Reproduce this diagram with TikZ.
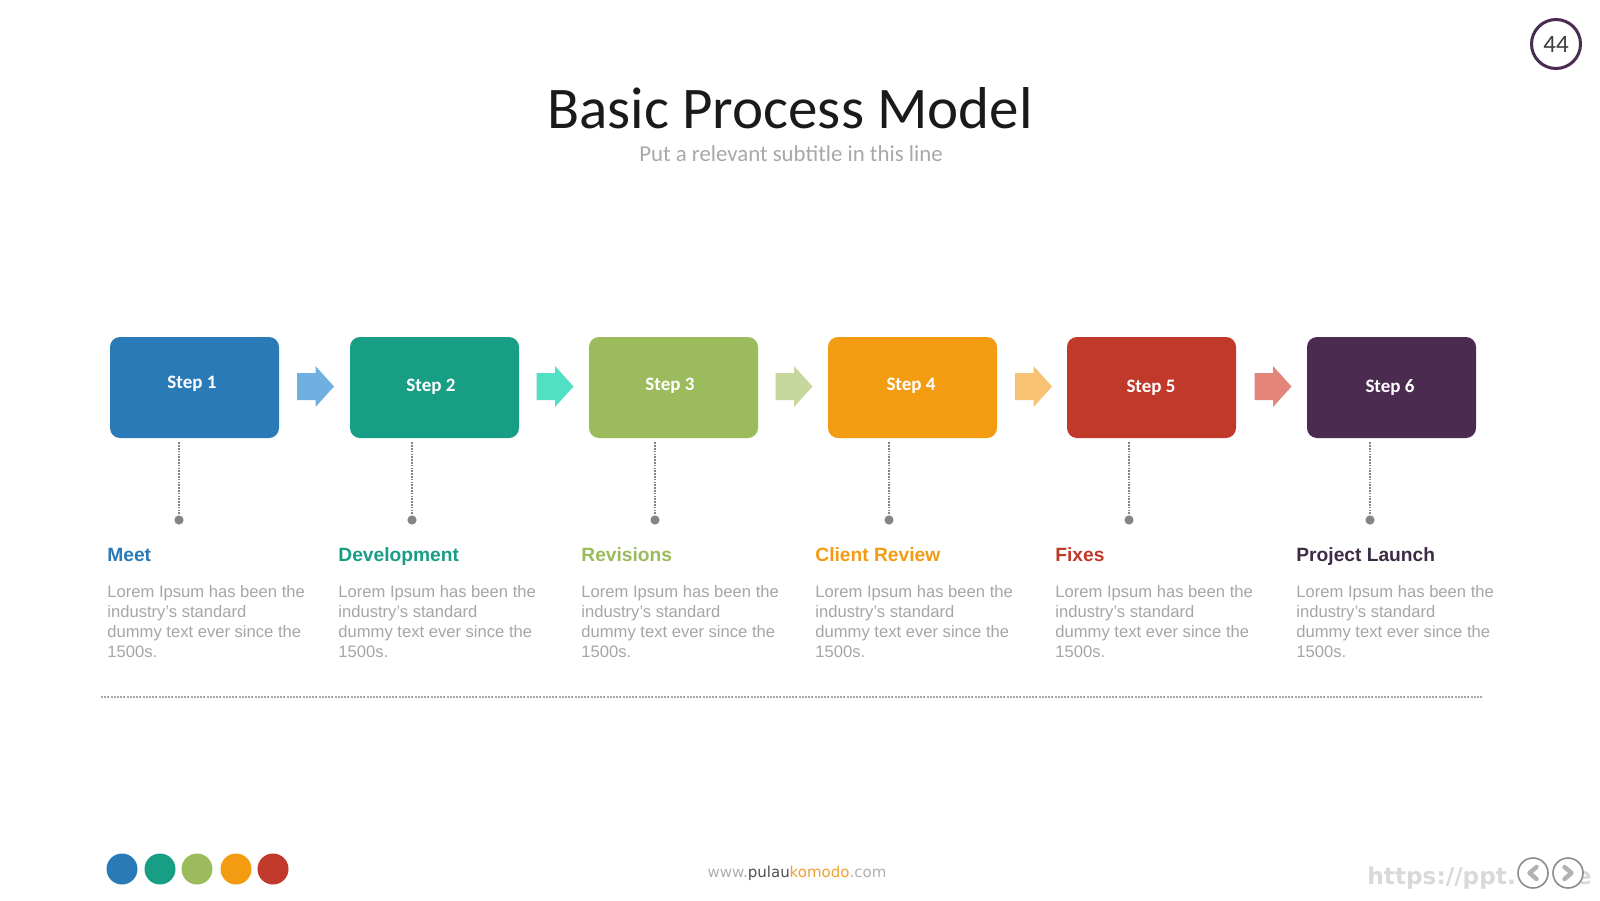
\documentclass[tikz,border=0pt]{standalone}
\usepackage{fontspec}
\setmainfont{Liberation Sans}
\newfontfamily\calib{Carlito}
\newfontfamily\dejav{DejaVu Sans}
\usetikzlibrary{calc}
\definecolor{cA}{HTML}{2A7AB8}
\definecolor{cB}{HTML}{199E86}
\definecolor{cC}{HTML}{9BBB5C}
\definecolor{cD}{HTML}{F39C12}
\definecolor{cE}{HTML}{C0392B}
\definecolor{cF}{HTML}{4B2C50}
\definecolor{hF}{HTML}{3D2B45}
\definecolor{aA}{HTML}{6FB0E0}
\definecolor{aB}{HTML}{52E0C4}
\definecolor{aC}{HTML}{C6D89E}
\definecolor{aD}{HTML}{F8C274}
\definecolor{aE}{HTML}{E4857A}
\definecolor{bodygray}{HTML}{A6A6A6}
\definecolor{dotgray}{HTML}{858585}
\definecolor{linegray}{HTML}{A8A8A8}
\definecolor{titlecol}{HTML}{1A1A1A}
\definecolor{subcol}{HTML}{A8A8A8}
\definecolor{badgecol}{HTML}{4A2C50}
\definecolor{webgray}{HTML}{B0B0B0}
\definecolor{webdark}{HTML}{505050}
\definecolor{weborange}{HTML}{F0A030}
\definecolor{wmgray}{HTML}{D9D9D9}
\tikzset{
  stepbox/.style={rectangle, rounded corners=5pt, minimum width=84.5pt, minimum height=50.5pt, inner sep=0pt},
  steplabel/.style={anchor=base, text=white, font=\calib\bfseries\fontsize{9.5pt}{11pt}\selectfont, inner sep=0pt},
  dotline/.style={draw=dotgray, line width=0.8pt, dash pattern=on 0.8pt off 0.6pt},
  enddot/.style={circle, fill=dotgray, minimum size=4.6pt, inner sep=0pt},
  heading/.style={anchor=base west, inner sep=0pt, font=\bfseries\fontsize{9.6pt}{12pt}\selectfont},
  bodytext/.style={anchor=north west, inner sep=0pt, align=left, text=bodygray, font=\fontsize{8.3pt}{10pt}\selectfont},
  colordot/.style={circle, minimum size=15.5pt, inner sep=0pt},
  navbtn/.style={circle, draw=gray!90, fill=white, line width=0.8pt, minimum size=15pt, inner sep=0pt},
}
\newcommand\blockarrow[2]{%
  \fill[#2] ($(#1)+(-18.5,-13.5)$) -- ($(#1)+(0,-13.5)$) -- ($(#1)+(0,-20.5)$) -- ($(#1)+(18.5,0)$) -- ($(#1)+(0,20.5)$) -- ($(#1)+(0,13.5)$) -- ($(#1)+(-18.5,13.5)$) -- cycle;}
\begin{document}
\begin{tikzpicture}[x=0.5pt,y=-0.5pt]
\useasboundingbox[fill=white] (0,0) rectangle (1600,900);

% badge
\node[circle, draw=badgecol, line width=1.5pt, minimum size=24.5pt, inner sep=0pt, text=titlecol!85, font=\calib\fontsize{12.5pt}{14pt}\selectfont] (badge) at (1556,44) {44};

% title
\node[anchor=base, inner sep=0pt, text=titlecol, font=\calib\fontsize{29.5pt}{34pt}\selectfont] (title) at (790,128) {Basic Process Model};
\node[anchor=base, inner sep=0pt, text=subcol, font=\calib\fontsize{11.4pt}{13pt}\selectfont] (subtitle) at (791,161) {Put a relevant subtitle in this line};

% boxes
\node[stepbox, fill=cA] (b1) at (194.5,387.5) {};
\node[stepbox, fill=cB] (b2) at (434.5,387.5) {};
\node[stepbox, fill=cC] (b3) at (673.5,387.5) {};
\node[stepbox, fill=cD] (b4) at (912.5,387.5) {};
\node[stepbox, fill=cE] (b5) at (1151.5,387.5) {};
\node[stepbox, fill=cF] (b6) at (1391.5,387.5) {};

\node[steplabel] (l1) at (192,388) {Step 1};
\node[steplabel] (l2) at (431,391) {Step 2};
\node[steplabel] (l3) at (670,390) {Step 3};
\node[steplabel] (l4) at (911,390) {Step 4};
\node[steplabel] (l5) at (1151,392) {Step 5};
\node[steplabel] (l6) at (1390,392) {Step 6};

% arrows
\coordinate (m1) at (315.5,386.5);
\coordinate (m2) at (555,386.5);
\coordinate (m3) at (794,386.5);
\coordinate (m4) at (1033.5,386.5);
\coordinate (m5) at (1273,386.5);
\blockarrow{m1}{aA}
\blockarrow{m2}{aB}
\blockarrow{m3}{aC}
\blockarrow{m4}{aD}
\blockarrow{m5}{aE}

% dots and dotted connectors
\node[enddot] (d1) at (179,520) {};
\node[enddot] (d2) at (412,520) {};
\node[enddot] (d3) at (655,520) {};
\node[enddot] (d4) at (889,520) {};
\node[enddot] (d5) at (1129,520) {};
\node[enddot] (d6) at (1370,520) {};
\foreach \i in {1,...,6}{
  \draw[dotline] ([yshift=-2pt]b\i.south -| d\i) -- (d\i.north);
}

% headings
\node[heading, text=cA] (h1) at (107,561) {Meet};
\node[heading, text=cB] (h2) at (338,561) {Development};
\node[heading, text=cC] (h3) at (581,561) {Revisions};
\node[heading, text=cD] (h4) at (815,561) {Client Review};
\node[heading, text=cE] (h5) at (1055,561) {Fixes};
\node[heading, text=hF] (h6) at (1296,561) {Project Launch};

% body texts
\foreach \x/\n in {107/1,338/2,581/3,815/4,1055/5,1296/6}{
  \node[bodytext] (t\n) at (\x,585) {Lorem Ipsum has been the\\industry's standard\\dummy text ever since the\\1500s.};
}

% horizontal dotted rule
\coordinate (hl) at (101,697);
\coordinate (hr) at (1483,697);
\draw[draw=linegray, line width=1pt, dash pattern=on 1pt off 0.6pt] (hl) -- (hr);

% colour dots
\node[colordot, fill=cA] (k1) at (122,869) {};
\node[colordot, fill=cB] (k2) at (160,869) {};
\node[colordot, fill=cC] (k3) at (197,869) {};
\node[colordot, fill=cD] (k4) at (236,869) {};
\node[colordot, fill=cE] (k5) at (273,869) {};

% footer
\node[anchor=base, inner sep=0pt, font=\dejav\fontsize{7.5pt}{9pt}\selectfont] (web) at (797,877) {\textcolor{webgray}{www.}\textcolor{webdark}{pulau}\textcolor{weborange}{komodo}\textcolor{webgray}{.com}};

% watermark and nav buttons
\node[anchor=base west, inner sep=0pt, text=wmgray, font=\dejav\bfseries\fontsize{11.6pt}{14pt}\selectfont] (wm) at (1367,884) {https://ppt.};
\node[anchor=base east, inner sep=0pt, text=wmgray, font=\dejav\bfseries\fontsize{11.6pt}{14pt}\selectfont] (wme) at (1592,884) {e};
\node[navbtn] (prev) at (1533,873) {};
\node[navbtn] (next) at (1568,873) {};
\draw[gray!60, line width=2.2pt, line cap=round, line join=round] ($(prev)+(3.5,-6)$) -- ($(prev)+(-3.5,0)$) -- ($(prev)+(3.5,6)$);
\draw[gray!60, line width=2.2pt, line cap=round, line join=round] ($(next)+(-3.5,-6)$) -- ($(next)+(3.5,0)$) -- ($(next)+(-3.5,6)$);
\end{tikzpicture}
\end{document}
